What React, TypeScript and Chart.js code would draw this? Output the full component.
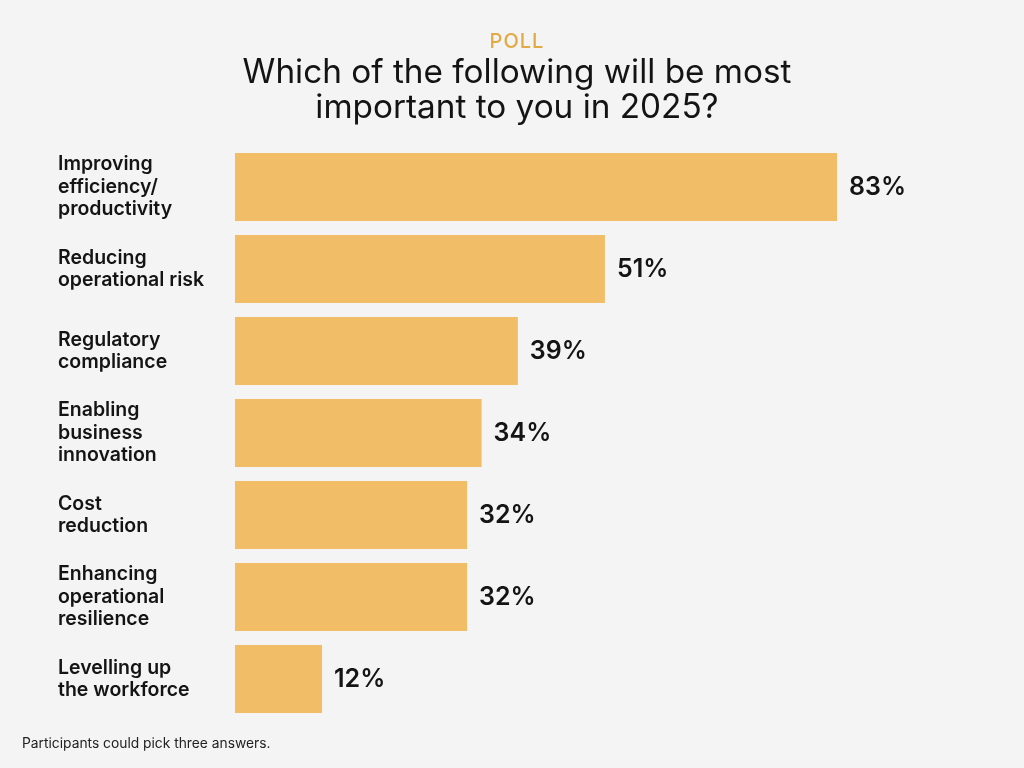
import React, { useEffect, useRef } from "react";
import { Chart, registerables } from "chart.js";

Chart.register(...registerables);

// Poll answers (multi-line labels) and share of respondents (%)
const categories: string[][] = [
  ["Improving", "efficiency/", "productivity"],
  ["Reducing", "operational risk"],
  ["Regulatory", "compliance"],
  ["Enabling", "business", "innovation"],
  ["Cost", "reduction"],
  ["Enhancing", "operational", "resilience"],
  ["Levelling up", "the workforce"],
];
const shares: number[] = [83, 51, 39, 34, 32, 32, 12];

const kicker = "POLL";
const headingLines = ["Which of the following will be most", "important to you in 2025?"];
const footnote = "Participants could pick three answers.";

const FONT = "Inter, 'Open Sans', sans-serif";
const BAR_COLOR = "#f1bd66";
const BG = "#f4f4f4";

// Writes the percentage just right of each bar's end
const valueLabels = {
  id: "valueLabels",
  afterDatasetsDraw(chart: any) {
    const { ctx } = chart;
    const meta = chart.getDatasetMeta(0);
    ctx.save();
    ctx.font = `600 25px ${FONT}`;
    ctx.fillStyle = "#141414";
    ctx.textAlign = "left";
    ctx.textBaseline = "alphabetic";
    meta.data.forEach((bar: any, i: number) => {
      ctx.fillText(`${shares[i]}%`, bar.x + 12, bar.y + 8);
    });
    ctx.restore();
  },
};

// Kicker, question and footnote
const headings = {
  id: "headings",
  afterDraw(chart: any) {
    const { ctx } = chart;
    const cx = 517;
    ctx.save();
    ctx.textAlign = "center";
    ctx.textBaseline = "alphabetic";
    ctx.fillStyle = "#e2aa45";
    ctx.font = `500 20px ${FONT}`;
    (ctx as any).letterSpacing = "1px";
    ctx.fillText(kicker, cx, 48);
    (ctx as any).letterSpacing = "0px";
    ctx.fillStyle = "#141414";
    ctx.font = `400 33.3px ${FONT}`;
    headingLines.forEach((line, i) => ctx.fillText(line, cx, 83 + i * 35));
    ctx.textAlign = "left";
    ctx.font = `400 13.8px ${FONT}`;
    ctx.fillStyle = "#222222";
    ctx.fillText(footnote, 22, 748);
    ctx.restore();
  },
};

export default function App() {
  const canvasRef = useRef<HTMLCanvasElement | null>(null);

  useEffect(() => {
    if (!canvasRef.current) return;
    const chart = new Chart(canvasRef.current, {
      type: "bar",
      data: {
        labels: categories,
        datasets: [
          {
            data: shares,
            backgroundColor: BAR_COLOR,
            borderWidth: 0,
            barPercentage: 1,
            categoryPercentage: 0.83,
          },
        ],
      },
      options: {
        indexAxis: "y",
        animation: false,
        responsive: false,
        maintainAspectRatio: false,
        layout: { padding: { top: 146, bottom: 48, left: 58, right: 63.7 } },
        plugins: {
          legend: { display: false },
          tooltip: { enabled: false },
          title: { display: false },
        },
        scales: {
          x: { display: false, min: 0, max: 100 },
          y: {
            grid: { display: false },
            border: { display: false },
            afterFit(scale: any) {
              scale.width = 177;
            },
            ticks: {
              crossAlign: "far",
              labelOffset: 0,
              color: "#141414",
              font: { family: FONT, size: 19.5, weight: 600, lineHeight: 1.16 },
            },
          },
        },
      },
      plugins: [valueLabels, headings],
    });
    return () => chart.destroy();
  }, []);

  return (
    <div
      style={{
        position: "absolute",
        left: 0,
        top: 0,
        width: 1024,
        height: 768,
        background: BG,
      }}
    >
      <canvas ref={canvasRef} width={1024} height={768} />
    </div>
  );
}
